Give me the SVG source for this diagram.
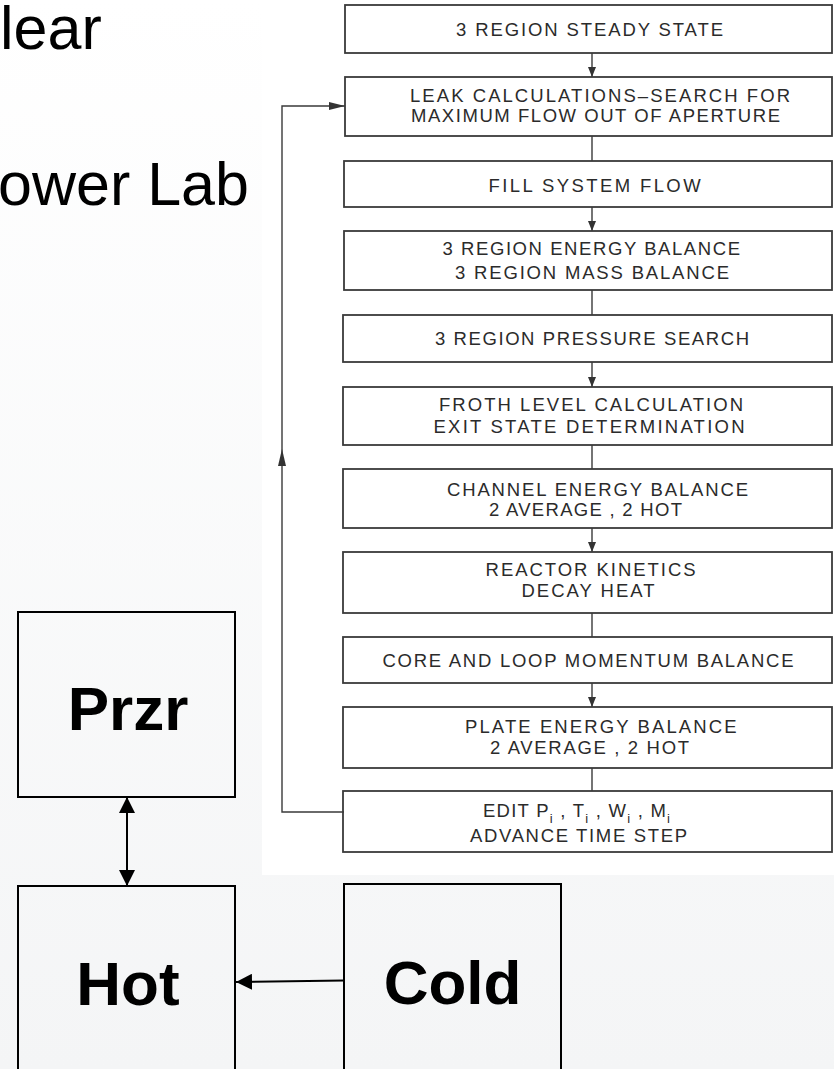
<svg xmlns="http://www.w3.org/2000/svg" width="834" height="1069" viewBox="0 0 834 1069">
<defs>
<linearGradient id="bg" x1="0" y1="0" x2="0" y2="1">
<stop offset="0" stop-color="#ffffff"/>
<stop offset="1" stop-color="#f4f5f6"/>
</linearGradient>
<marker id="fa" viewBox="0 0 10 8" refX="10" refY="4" markerWidth="10" markerHeight="8" markerUnits="userSpaceOnUse" orient="auto">
<path d="M0,0 L10,4 L0,8 Z" fill="#333"/>
</marker>
<marker id="fl" viewBox="0 0 16 8" refX="16" refY="4" markerWidth="16" markerHeight="8" markerUnits="userSpaceOnUse" orient="auto">
<path d="M0,0 L16,4 L0,8 Z" fill="#333"/>
</marker>
<marker id="ba" viewBox="0 0 16 16" refX="16" refY="8" markerWidth="16" markerHeight="16" markerUnits="userSpaceOnUse" orient="auto-start-reverse">
<path d="M0,0 L16,8 L0,16 Z" fill="#000"/>
</marker>
<style>
.fb{fill:none;stroke:#3a3a3a;stroke-width:1.8}
.ft{font-family:"Liberation Sans",Arial,sans-serif;font-size:18.5px;fill:#2b2b2b}
.sub{font-size:13px}
.fc{fill:none;stroke:#3a3a3a;stroke-width:1.4}
.lb{fill:none;stroke:#000;stroke-width:2}
.lt{font-family:"Liberation Sans",Arial,sans-serif;font-size:62px;font-weight:bold;fill:#000;text-anchor:middle}
.tt{font-family:"Liberation Sans",Arial,sans-serif;font-size:61px;fill:#000}
.bc{fill:none;stroke:#000;stroke-width:2}
</style>
</defs>
<rect x="0" y="0" width="834" height="1069" fill="url(#bg)"/>
<text class="tt" x="0" y="49">lear</text>
<text class="tt" x="-2" y="205">ower Lab</text>
<rect x="262" y="0" width="572" height="875" fill="#ffffff"/>

<g id="connectors">
<line class="fc" x1="592" y1="53" x2="592" y2="77" marker-end="url(#fa)"/>
<line class="fc" x1="592" y1="136" x2="592" y2="161"/>
<line class="fc" x1="592" y1="207" x2="592" y2="231" marker-end="url(#fa)"/>
<line class="fc" x1="592" y1="290" x2="592" y2="315"/>
<line class="fc" x1="592" y1="362" x2="592" y2="387" marker-end="url(#fa)"/>
<line class="fc" x1="592" y1="445" x2="592" y2="469"/>
<line class="fc" x1="592" y1="528" x2="592" y2="552" marker-end="url(#fa)"/>
<line class="fc" x1="592" y1="613" x2="592" y2="637"/>
<line class="fc" x1="592" y1="683" x2="592" y2="707" marker-end="url(#fa)"/>
<line class="fc" x1="592" y1="768" x2="592" y2="791"/>
<polyline class="fc" points="344,812 282,812 282,106 345,106" marker-end="url(#fl)"/>
<path d="M282,449 L286,466 L278,466 Z" fill="#333"/>
<line class="bc" x1="127" y1="797" x2="127" y2="886" marker-start="url(#ba)" marker-end="url(#ba)"/>
<line class="bc" x1="344" y1="980.5" x2="236" y2="982" marker-end="url(#ba)"/>
</g>

<g id="n1"><rect class="fb" x="345" y="5" width="487" height="48"/>
<text class="ft" x="456" y="36" textLength="267" lengthAdjust="spacing">3 REGION STEADY STATE</text></g>
<g id="n2"><rect class="fb" x="345" y="77" width="487" height="59"/>
<text class="ft" x="410" y="101.7" textLength="380" lengthAdjust="spacing">LEAK CALCULATIONS–SEARCH FOR</text>
<text class="ft" x="411" y="122.3" textLength="369" lengthAdjust="spacing">MAXIMUM FLOW OUT OF APERTURE</text></g>
<g id="n3"><rect class="fb" x="344" y="161" width="488" height="46"/>
<text class="ft" x="488.6" y="191.7" textLength="212" lengthAdjust="spacing">FILL SYSTEM FLOW</text></g>
<g id="n4"><rect class="fb" x="344" y="231" width="488" height="59"/>
<text class="ft" x="442.5" y="255" textLength="297.5" lengthAdjust="spacing">3 REGION ENERGY BALANCE</text>
<text class="ft" x="455" y="279" textLength="274" lengthAdjust="spacing">3 REGION MASS BALANCE</text></g>
<g id="n5"><rect class="fb" x="343" y="315" width="489" height="47"/>
<text class="ft" x="435" y="345" textLength="314" lengthAdjust="spacing">3 REGION PRESSURE SEARCH</text></g>
<g id="n6"><rect class="fb" x="343" y="387" width="489" height="58"/>
<text class="ft" x="439" y="411" textLength="304" lengthAdjust="spacing">FROTH LEVEL CALCULATION</text>
<text class="ft" x="433.5" y="432.7" textLength="311" lengthAdjust="spacing">EXIT STATE DETERMINATION</text></g>
<g id="n7"><rect class="fb" x="343" y="469" width="489" height="59"/>
<text class="ft" x="447" y="496" textLength="301" lengthAdjust="spacing">CHANNEL ENERGY BALANCE</text>
<text class="ft" x="489" y="516" textLength="193" lengthAdjust="spacing">2 AVERAGE , 2 HOT</text></g>
<g id="n8"><rect class="fb" x="343" y="552" width="489" height="61"/>
<text class="ft" x="485.6" y="576" textLength="210" lengthAdjust="spacing">REACTOR KINETICS</text>
<text class="ft" x="521.5" y="596.7" textLength="133" lengthAdjust="spacing">DECAY HEAT</text></g>
<g id="n9"><rect class="fb" x="343" y="637" width="489" height="46"/>
<text class="ft" x="382.5" y="666.7" textLength="411" lengthAdjust="spacing">CORE AND LOOP MOMENTUM BALANCE</text></g>
<g id="n10"><rect class="fb" x="343" y="707" width="489" height="61"/>
<text class="ft" x="465" y="733.3" textLength="271.5" lengthAdjust="spacing">PLATE ENERGY BALANCE</text>
<text class="ft" x="490" y="754" textLength="199" lengthAdjust="spacing">2 AVERAGE , 2 HOT</text></g>
<g id="n11"><rect class="fb" x="343" y="791" width="489" height="61"/>
<text class="ft" x="483" y="816.7" textLength="187" lengthAdjust="spacing">EDIT P<tspan class="sub" dy="6">i</tspan><tspan dy="-6"> , T</tspan><tspan class="sub" dy="6">i</tspan><tspan dy="-6"> , W</tspan><tspan class="sub" dy="6">i</tspan><tspan dy="-6"> , M</tspan><tspan class="sub" dy="6">i</tspan></text>
<text class="ft" x="470" y="841.7" textLength="217" lengthAdjust="spacing">ADVANCE TIME STEP</text></g>

<g id="przr"><rect class="lb" x="18" y="612" width="217" height="185"/>
<text class="lt" x="128" y="730">Przr</text></g>
<g id="hot"><rect class="lb" x="18" y="886" width="217" height="200"/>
<text class="lt" x="128" y="1005">Hot</text></g>
<g id="cold"><rect class="lb" x="344" y="884" width="217" height="200"/>
<text class="lt" x="452.5" y="1004">Cold</text></g>
</svg>
